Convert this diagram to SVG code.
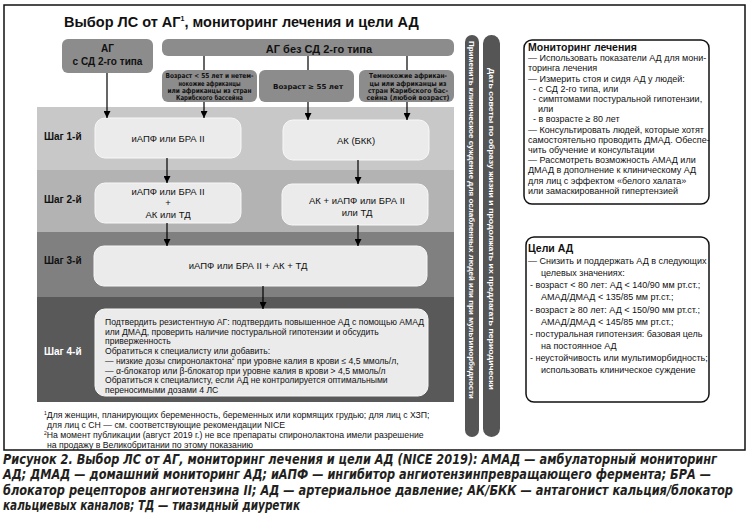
<svg xmlns="http://www.w3.org/2000/svg" width="751" height="515" viewBox="0 0 751 515">
<style>
text{font-family:"Liberation Sans",Arial,sans-serif;fill:#111}
.b{font-weight:bold}
.hdr{fill:#8c8c8c}
.hb{font-family:"Liberation Sans Narrow","DejaVu Sans Condensed","Liberation Sans",sans-serif;font-weight:bold;font-size:6.8px;text-anchor:middle}
.box{fill:#ebebeb;stroke:#f8f8f8;stroke-width:1}
.bt{font-size:9.5px;text-anchor:middle}
.step{font-size:10px;font-weight:bold}
.s4{font-size:8.6px}
.fn{font-size:8.7px}
.panel{fill:#fff;stroke:#111;stroke-width:1.5}
.pt{font-size:9px}
.bar{fill:#555}
.bartxt{fill:#fff;font-size:8px;font-weight:bold;font-family:"Liberation Sans Narrow","Liberation Sans",sans-serif}
.cap{font-family:"Liberation Sans Narrow","DejaVu Sans Condensed","Liberation Sans",sans-serif;font-weight:bold;font-style:italic;font-size:12.4px;fill:#231f20}
.ln{stroke:#000;stroke-width:1.2;fill:none}
</style>
<defs>
<marker id="ah" markerWidth="7" markerHeight="7" refX="7" refY="3.5" orient="auto" markerUnits="userSpaceOnUse"><path d="M0,0 L7,3.5 L0,7 z" fill="#000"/></marker>
</defs>
<rect x="4" y="5" width="741" height="445" fill="#fff" stroke="#111" stroke-width="1.5"/>
<text class="b" x="64" y="27" font-size="14.5">Выбор ЛС от АГ<tspan font-size="7" dy="-6">1</tspan><tspan dy="6">, мониторинг лечения и цели АД</tspan></text>

<g id="bands">
<rect x="37" y="107" width="417" height="63" fill="#c8c8c8"/>
<rect x="37" y="170" width="417" height="62" fill="#b3b3b3"/>
<rect x="37" y="232" width="417" height="65" fill="#808080"/>
<rect x="37" y="297" width="417" height="105" fill="#595959"/>
</g>

<g id="n-ag-sd">
<rect class="hdr" x="62" y="39" width="91" height="34" rx="6"/>
<text class="b" x="107.5" y="52" font-size="10" text-anchor="middle">АГ</text>
<text class="b" x="107.5" y="64.5" font-size="10" text-anchor="middle">с СД 2-го типа</text>
</g>
<g id="n-ag-nosd">
<rect class="hdr" x="162" y="39" width="292" height="17" rx="6"/>
<text class="b" x="319" y="52.5" font-size="11" text-anchor="middle">АГ без СД 2-го типа</text>
</g>
<g id="n-sub1">
<rect class="hdr" x="162" y="70" width="95" height="32" rx="6"/>
<text class="hb" x="209.5" y="78.3" textLength="88" lengthAdjust="spacingAndGlyphs">Возраст &lt; 55 лет и нетем-</text>
<text class="hb" x="209.5" y="85.6" textLength="62" lengthAdjust="spacingAndGlyphs">нокожие африканцы</text>
<text class="hb" x="209.5" y="92.9" textLength="84" lengthAdjust="spacingAndGlyphs">или африканцы из стран</text>
<text class="hb" x="209.5" y="100.2" textLength="67" lengthAdjust="spacingAndGlyphs">Карибского бассейна</text>
</g>
<g id="n-sub2">
<rect class="hdr" x="259" y="70" width="95" height="32" rx="6"/>
<text class="hb" x="308" y="89" font-size="8.6px" textLength="70" lengthAdjust="spacingAndGlyphs">Возраст ≥ 55 лет</text>
</g>
<g id="n-sub3">
<rect class="hdr" x="359" y="70" width="95" height="32" rx="6"/>
<text class="hb" x="408" y="78.3" textLength="78" lengthAdjust="spacingAndGlyphs">Темнокожие африкан-</text>
<text class="hb" x="408" y="85.6" textLength="77" lengthAdjust="spacingAndGlyphs">цы или африканцы из</text>
<text class="hb" x="408" y="92.9" textLength="80" lengthAdjust="spacingAndGlyphs">стран Карибского бас-</text>
<text class="hb" x="408" y="100.2" textLength="83" lengthAdjust="spacingAndGlyphs">сейна (любой возраст)</text>
</g>

<g id="steps">
<text class="step" x="44" y="140">Шаг 1-й</text>
<text class="step" x="44" y="203">Шаг 2-й</text>
<text class="step" x="44" y="264">Шаг 3-й</text>
<text class="step" x="44" y="355" style="fill:#fff">Шаг 4-й</text>
</g>

<g id="n-s1a"><rect class="box" x="95" y="118" width="146" height="40" rx="10"/>
<text class="bt" x="168" y="142">иАПФ или БРА II</text></g>
<g id="n-s1b"><rect class="box" x="283" y="120" width="146" height="40" rx="10"/>
<text class="bt" x="356" y="143.5">АК (БКК)</text></g>
<g id="n-s2a"><rect class="box" x="95" y="183" width="146" height="40" rx="10"/>
<text class="bt" x="168" y="195">иАПФ или БРА II</text>
<text class="bt" x="168" y="206">+</text>
<text class="bt" x="168" y="218">АК или ТД</text></g>
<g id="n-s2b"><rect class="box" x="282" y="184" width="146" height="41" rx="10"/>
<text class="bt" x="357" y="204">АК + иАПФ или БРА II</text>
<text class="bt" x="357" y="216">или ТД</text></g>
<g id="n-s3"><rect class="box" x="94" y="246" width="333" height="40" rx="10"/>
<text class="bt" x="248" y="269">иАПФ или БРА II + АК + ТД</text></g>
<g id="n-s4"><rect class="box" x="95" y="309" width="333" height="87" rx="10"/>
<text class="s4" x="105" y="325">Подтвердить резистентную АГ: подтвердить повышенное АД с помощью АМАД</text>
<text class="s4" x="105" y="334.7">или ДМАД, проверить наличие постуральной гипотензии и обсудить</text>
<text class="s4" x="105" y="344.4">приверженность</text>
<text class="s4" x="105" y="354.1">Обратиться к специалисту или добавить:</text>
<text class="s4" x="105" y="363.8">— низкие дозы спиронолактона<tspan font-size="5" dy="-3.5">2</tspan><tspan dy="3.5"> при уровне калия в крови ≤ 4,5 ммоль/л,</tspan></text>
<text class="s4" x="105" y="373.5">— α-блокатор или β-блокатор при уровне калия в крови &gt; 4,5 ммоль/л</text>
<text class="s4" x="105" y="383.2">Обратиться к специалисту, если АД не контролируется оптимальными</text>
<text class="s4" x="105" y="392.9">переносимыми дозами 4 ЛС</text></g>

<g id="connectors">
<line class="ln" x1="204" y1="56" x2="204" y2="70"/>
<line class="ln" x1="308" y1="56" x2="308" y2="70"/>
<line class="ln" x1="407" y1="56" x2="407" y2="70"/>
<line class="ln" x1="107" y1="73" x2="107" y2="118" marker-end="url(#ah)"/>
<line class="ln" x1="204" y1="102" x2="204" y2="118" marker-end="url(#ah)"/>
<line class="ln" x1="308" y1="102" x2="308" y2="120" marker-end="url(#ah)"/>
<line class="ln" x1="407" y1="102" x2="407" y2="120" marker-end="url(#ah)"/>
<line class="ln" x1="167" y1="158" x2="167" y2="183" marker-end="url(#ah)"/>
<line class="ln" x1="358" y1="160" x2="358" y2="184" marker-end="url(#ah)"/>
<line class="ln" x1="167" y1="223" x2="167" y2="246" marker-end="url(#ah)"/>
<line class="ln" x1="358" y1="225" x2="358" y2="246" marker-end="url(#ah)"/>
<line class="ln" x1="263" y1="286" x2="263" y2="309" marker-end="url(#ah)"/>
</g>

<g id="footnotes">
<text class="fn" x="44" y="418"><tspan font-size="5" dy="-3.5">1</tspan><tspan dy="3.5">Для женщин, планирующих беременность, беременных или кормящих грудью; для лиц с ХЗП;</tspan></text>
<text class="fn" x="47" y="428">для лиц с СН — см. соответствующие рекомендации NICE</text>
<text class="fn" x="44" y="438"><tspan font-size="5" dy="-3.5">2</tspan><tspan dy="3.5">На момент публикации (август 2019 г.) не все препараты спиронолактона имели разрешение</tspan></text>
<text class="fn" x="47" y="448">на продажу в Великобритании по этому показанию</text>
</g>

<g id="n-bar1">
<rect class="bar" x="465" y="35" width="14" height="402" rx="7"/>
<text class="bartxt" transform="translate(469,41) rotate(90)" textLength="358" lengthAdjust="spacingAndGlyphs">Применить клиническое суждение для ослабленных людей или при мультиморбидности</text>
</g>
<g id="n-bar2">
<rect class="bar" x="483" y="35" width="17" height="402" rx="8.5"/>
<text class="bartxt" transform="translate(488.5,68) rotate(90)" textLength="322" lengthAdjust="spacingAndGlyphs">Дать советы по образу жизни и продолжать их предлагать периодически</text>
</g>

<g id="n-monitor">
<rect class="panel" x="524" y="40" width="185" height="164" rx="8"/>
<text class="b" x="528" y="51" font-size="10.5">Мониторинг лечения</text>
<text class="pt" x="528" y="61.2">— Использовать показатели АД для мони-</text>
<text class="pt" x="528" y="71.4">торинга лечения</text>
<text class="pt" x="528" y="81.6">— Измерить стоя и сидя АД у людей:</text>
<text class="pt" x="533" y="91.8">- с СД 2-го типа, или</text>
<text class="pt" x="533" y="102">- симптомами постуральной гипотензии,</text>
<text class="pt" x="538" y="112.2">или</text>
<text class="pt" x="533" y="122.4">- в возрасте ≥ 80 лет</text>
<text class="pt" x="528" y="132.6">— Консультировать людей, которые хотят</text>
<text class="pt" x="528" y="142.8">самостоятельно проводить ДМАД. Обеспе-</text>
<text class="pt" x="528" y="153">чить обучение и консультации</text>
<text class="pt" x="528" y="163.2">— Рассмотреть возможность АМАД или</text>
<text class="pt" x="528" y="173.4">ДМАД в дополнение к клиническому АД</text>
<text class="pt" x="528" y="183.6">для лиц с эффектом «белого халата»</text>
<text class="pt" x="528" y="193.8">или замаскированной гипертензией</text>
</g>

<g id="n-goals">
<rect class="panel" x="526" y="237" width="183" height="165" rx="8"/>
<text class="b" x="528" y="252" font-size="10.5">Цели АД</text>
<text class="pt" x="528" y="264">— Снизить и поддержать АД в следующих</text>
<text class="pt" x="541" y="276">целевых значениях:</text>
<text class="pt" x="530" y="288">- возраст &lt; 80 лет: АД &lt; 140/90 мм рт.ст.;</text>
<text class="pt" x="541" y="300.3">АМАД/ДМАД &lt; 135/85 мм рт.ст.;</text>
<text class="pt" x="530" y="312.5">- возраст ≥ 80 лет: АД &lt; 150/90 мм рт.ст.;</text>
<text class="pt" x="541" y="324.7">АМАД/ДМАД &lt; 145/85 мм рт.ст.;</text>
<text class="pt" x="530" y="336.8">- постуральная гипотензия: базовая цель</text>
<text class="pt" x="541" y="348.8">на постоянное АД</text>
<text class="pt" x="530" y="360.8">- неустойчивость или мультиморбидность;</text>
<text class="pt" x="541" y="373">использовать клиническое суждение</text>
</g>

<g id="caption">
<text class="cap" transform="translate(3,463.5) scale(1,1.1)" textLength="714" lengthAdjust="spacingAndGlyphs">Рисунок 2. Выбор ЛС от АГ, мониторинг лечения и цели АД (NICE 2019): АМАД — амбулаторный мониторинг</text>
<text class="cap" transform="translate(3,479) scale(1,1.1)" textLength="708" lengthAdjust="spacingAndGlyphs">АД; ДМАД — домашний мониторинг АД; иАПФ — ингибитор ангиотензинпревращающего фермента; БРА —</text>
<text class="cap" transform="translate(3,494.5) scale(1,1.1)" textLength="730" lengthAdjust="spacingAndGlyphs">блокатор рецепторов ангиотензина II; АД — артериальное давление; АК/БКК — антагонист кальция/блокатор</text>
<text class="cap" transform="translate(3,510) scale(1,1.1)" textLength="297" lengthAdjust="spacingAndGlyphs">кальциевых каналов; ТД — тиазидный диуретик</text>
</g>
</svg>
